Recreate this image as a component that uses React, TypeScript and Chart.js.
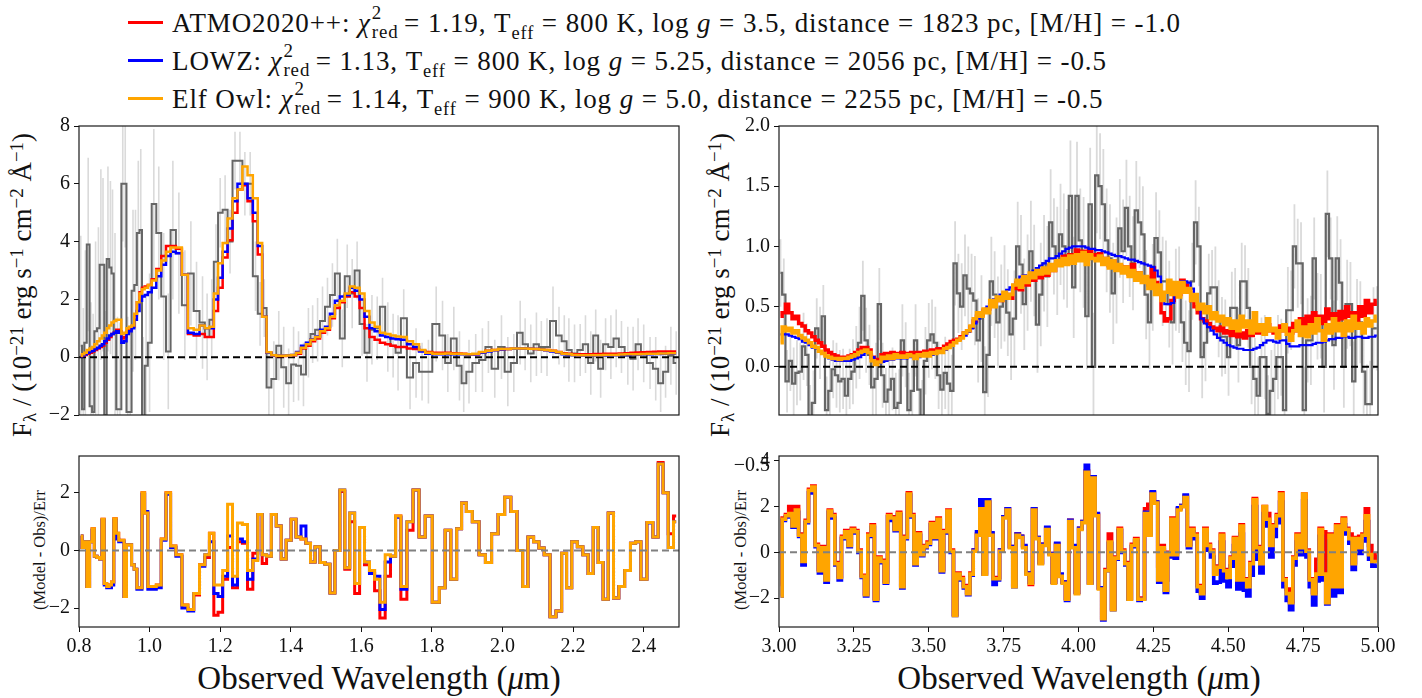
import React, { useEffect, useRef } from 'react';
import { Chart, registerables } from 'chart.js';
Chart.register(...registerables);

const SERIF = "'Liberation Serif', 'DejaVu Serif', serif";
const C_ATMO = '#ff0000';
const C_LOWZ = '#0000ff';
const C_ELF = '#ffa500';
const C_OBS = '#666666';
const C_ERR = '#dadada';

// ---------- Left panel (0.8 - 2.5 um) ----------
const LEFT_WAVE = [0.805,0.812,0.818,0.826,0.834,0.840,0.847,0.855,0.862,0.868,0.875,0.882,0.889,0.895,0.902,0.909,0.916,0.924,0.931,0.938,0.945,0.953,0.960,0.968,0.975,0.982,0.990,1.000,1.012,1.026,1.040,1.053,1.066,1.083,1.100,1.117,1.133,1.150,1.163,1.176,1.188,1.200,1.214,1.228,1.242,1.256,1.270,1.285,1.300,1.313,1.325,1.338,1.352,1.366,1.380,1.394,1.408,1.422,1.436,1.450,1.462,1.476,1.490,1.504,1.518,1.532,1.546,1.560,1.574,1.588,1.602,1.616,1.630,1.645,1.660,1.675,1.690,1.704,1.720,1.738,1.755,1.772,1.790,1.812,1.830,1.845,1.862,1.878,1.890,1.905,1.924,1.943,1.960,1.978,1.997,2.015,2.032,2.050,2.064,2.080,2.096,2.110,2.126,2.143,2.160,2.175,2.188,2.204,2.220,2.235,2.250,2.264,2.278,2.292,2.307,2.322,2.337,2.355,2.370,2.384,2.400,2.418,2.434,2.448,2.462,2.477,2.492];
const LEFT_OBS = [0.4,-1.8,0.5,3.9,-1.7,-1.9,0.9,1.0,3.2,3.2,
-2.0,3.4,3.1,2.9,0.9,-1.8,-1.8,6.0,6.0,-1.9,
-1.9,2.3,2.5,4.3,4.4,-2.5,-0.3,0.5,5.3,4.3,
2.1,0.2,4.4,3.6,1.8,2.9,1.6,1.2,0.7,1.3,
3.3,5.0,5.1,4.0,6.8,6.8,6.0,6.0,2.8,1.5,
1.7,-1.05,-0.75,0.4,-0.35,-0.9,-0.25,-0.3,-0.6,0.5,
0.8,0.95,1.25,1.75,2.15,2.9,0.65,2.8,2.2,3.0,
1.15,0.15,0.95,1.0,1.75,0.7,0.4,0.15,1.35,-0.7,
-0.2,-0.5,-0.5,1.15,0.75,-0.2,0.65,-0.3,-0.9,-0.5,
-0.2,-0.1,0.35,-0.4,0.35,-0.5,-0.2,0.85,0.45,0.13,
0.45,0.35,0.35,1.25,0.75,0.55,0.25,0.13,0.25,0.45,
-0.2,0.75,-0.4,0.45,0.35,0.65,0.35,0.05,-0.05,0.45,
0.13,-0.2,-0.4,-0.9,-0.5,0.05,-0.2];
const LEFT_ERR = [3.8,3.5,3.2,3.0,3.6,3.4,3.1,3.5,3.3,3.0,
3.6,3.2,3.0,2.9,3.4,3.2,3.0,2.0,2.2,3.3,
3.0,2.8,2.6,2.5,2.8,3.2,2.5,2.4,2.6,2.3,
2.2,2.0,2.4,2.1,1.9,1.8,1.7,1.6,1.5,1.4,
1.3,1.2,1.2,1.1,1.0,1.0,1.1,1.1,1.2,1.1,
1.0,1.2,1.3,1.2,1.4,1.2,1.3,1.2,1.1,1.2,
1.0,1.1,1.2,1.0,1.1,1.2,1.0,1.1,1.2,1.0,
1.1,1.0,1.2,1.1,1.0,1.2,1.1,1.3,1.0,1.1,
1.2,1.0,1.1,1.3,1.2,1.0,1.1,1.2,1.0,1.1,
1.0,1.1,0.9,1.0,1.1,1.2,1.0,1.1,0.9,1.0,
1.1,0.9,1.0,1.2,1.0,0.9,1.1,1.0,0.9,1.0,
1.1,0.9,1.0,0.9,1.1,1.0,0.9,1.0,1.1,0.9,
1.0,0.9,1.1,1.0,0.9,1.0,1.1];
const LEFT_ELF = [0.05,0.1,0.15,0.25,0.3,0.35,0.45,0.55,0.65,0.75,
0.85,1.0,1.1,1.2,1.25,1.3,1.3,0.8,0.85,1.0,
1.05,1.1,1.5,1.9,2.2,2.35,2.4,2.5,2.65,3.0,
3.35,3.65,3.8,3.8,2.85,1.0,0.95,1.1,1.0,1.05,
2.2,3.25,3.95,4.8,5.5,5.8,6.6,6.3,5.5,3.95,
1.4,0.17,0.07,0.05,0.05,0.06,0.08,0.15,0.33,0.45,
0.6,0.7,0.9,1.0,1.4,1.8,1.95,2.2,2.45,2.4,
2.2,1.6,1.2,1.05,0.85,0.8,0.75,0.72,0.7,0.55,
0.45,0.25,0.15,0.12,0.12,0.13,0.12,0.12,0.11,0.1,
0.12,0.18,0.22,0.25,0.28,0.28,0.3,0.3,0.3,0.29,
0.28,0.27,0.25,0.22,0.17,0.12,0.1,0.08,0.07,0.07,
0.07,0.07,0.07,0.08,0.08,0.08,0.09,0.1,0.1,0.1,
0.11,0.12,0.12,0.13,0.13,0.14,0.14];
const LEFT_LOWZ = [0.03,0.06,0.1,0.15,0.2,0.22,0.28,0.33,0.4,0.45,
0.55,0.65,0.75,0.8,0.85,0.9,0.85,0.5,0.55,0.8,
0.9,1.0,1.3,1.6,1.95,2.1,2.15,2.25,2.4,2.8,
3.2,3.5,3.65,3.6,2.85,0.85,0.8,1.1,1.0,1.0,
2.0,2.75,3.65,4.45,5.4,6.0,6.0,5.5,5.0,3.85,
1.4,0.15,0.06,0.05,0.05,0.06,0.08,0.18,0.4,0.5,
0.62,0.72,0.95,1.05,1.5,1.95,2.1,2.15,2.4,2.3,
2.0,1.4,1.0,0.9,0.75,0.7,0.65,0.62,0.6,0.45,
0.35,0.2,0.12,0.1,0.1,0.1,0.1,0.1,0.1,0.09,
0.1,0.15,0.2,0.24,0.27,0.28,0.29,0.3,0.3,0.29,
0.28,0.27,0.24,0.2,0.15,0.1,0.08,0.07,0.06,0.06,
0.06,0.06,0.06,0.06,0.07,0.07,0.08,0.08,0.09,0.09,
0.1,0.1,0.11,0.11,0.12,0.12,0.13];
const LEFT_ATMO = [0.03,0.05,0.08,0.12,0.15,0.2,0.25,0.3,0.35,0.4,
0.5,0.6,0.7,0.8,0.85,0.95,0.9,0.65,0.7,0.85,
0.95,1.05,1.45,1.9,2.25,2.4,2.45,2.5,2.7,3.05,
3.5,3.85,3.85,3.75,2.85,0.8,0.75,0.8,0.7,0.7,
1.6,2.4,3.45,4.05,5.0,5.8,5.95,5.4,4.7,3.55,
1.4,0.15,0.05,0.04,0.04,0.05,0.07,0.12,0.3,0.4,
0.55,0.65,0.85,0.95,1.35,1.7,1.9,2.1,2.25,2.1,
1.7,1.0,0.7,0.6,0.5,0.45,0.4,0.35,0.35,0.3,
0.28,0.22,0.18,0.15,0.15,0.15,0.14,0.13,0.12,0.1,
0.1,0.17,0.22,0.25,0.27,0.28,0.29,0.3,0.3,0.29,
0.28,0.27,0.25,0.22,0.18,0.14,0.12,0.1,0.1,0.1,
0.1,0.11,0.11,0.12,0.12,0.12,0.13,0.14,0.15,0.16,
0.17,0.18,0.19,0.2,0.2,0.2,0.2];
const LEFT_RES_ELF = [0.5,0.1,0.3,-1.25,0.3,0.75,-0.2,-0.25,-0.3,1.08,
-1.15,-1.25,-1.2,-1.1,1.1,0.6,0.35,0.35,-1.6,0.2,
0.2,-0.5,-0.65,-1.3,-1.3,2.0,1.3,-1.25,-1.25,-1.2,
0.4,2.0,0.15,-0.15,-1.9,-2.05,-1.5,-0.5,-0.15,0.6,
-1.2,-1.2,-0.7,1.6,-0.9,0.95,0.9,-0.7,-0.35,1.25,
-0.15,-0.2,1.25,0.85,-0.3,0.35,1.08,0.47,0.4,0.25,
-0.4,0.13,-0.42,-0.48,-1.48,0.0,2.1,-0.6,1.3,-1.15,
0.8,-0.4,-0.7,-1.0,-1.8,-0.15,-0.2,1.2,-1.25,1.0,
2.1,0.47,1.2,-1.8,-1.3,0.7,-1.0,0.75,1.65,1.35,
1.0,-0.15,-0.42,0.58,1.25,1.85,1.35,0.0,-1.25,0.47,
0.3,0.08,-0.15,-2.3,-2.1,-0.1,-1.3,0.3,0.13,-0.15,
-0.8,0.8,-0.42,-1.7,1.3,-1.65,-1.25,-0.7,0.25,0.3,
-1.0,0.97,0.47,3.0,2.0,0.1,1.0];
const LEFT_RES_LOWZ = [0.5,0.1,0.3,-1.25,0.3,0.7,-0.2,-0.25,-0.3,1.05,
-1.2,-1.3,-1.3,-1.2,1.05,0.4,0.3,0.3,-1.6,0.2,
0.2,-0.5,-0.65,-1.35,-1.35,1.95,1.35,-1.35,-1.35,-1.3,
0.35,1.95,0.1,-0.2,-2.0,-2.1,-1.5,-0.55,-0.15,0.3,
-1.5,-1.6,-0.9,0.5,-1.2,0.4,0.3,-1.0,-0.3,1.25,
-0.15,-0.2,1.25,0.85,-0.3,0.35,1.08,0.47,0.85,0.25,
-0.4,0.13,-0.42,-0.48,-1.48,0.0,2.1,-0.6,1.3,-1.15,
0.8,-0.4,-0.8,-0.9,-2.05,-0.4,-0.2,1.15,-1.35,1.0,
2.1,0.47,1.2,-1.8,-1.3,0.7,-1.0,0.75,1.65,1.35,
1.0,-0.15,-0.42,0.58,1.25,1.85,1.35,0.0,-1.25,0.47,
0.3,0.08,-0.15,-2.3,-2.1,-0.1,-1.3,0.3,0.13,-0.15,
-0.8,0.8,-0.42,-1.7,1.3,-1.65,-1.25,-0.7,0.25,0.3,
-1.0,0.95,0.47,3.0,2.0,0.1,1.0];
const LEFT_RES_ATMO = [0.5,0.1,0.3,-1.25,0.3,0.75,-0.2,-0.25,-0.3,1.08,
-1.15,-1.25,-1.2,-1.1,1.1,0.6,0.35,0.35,-1.6,0.2,
0.2,-0.5,-0.65,-1.3,-1.3,2.0,1.3,-1.25,-1.25,-1.2,
0.4,2.0,0.15,-0.15,-1.9,-2.05,-1.55,-0.5,-0.25,0.6,
-2.25,-2.15,-1.0,0.1,-1.3,0.3,0.25,-1.35,-0.1,1.25,
-0.45,-0.2,1.25,0.85,-0.3,0.35,1.08,0.47,0.4,0.25,
-0.4,0.13,-0.42,-0.48,-1.48,0.0,2.05,-0.65,1.0,-1.5,
0.8,-0.5,-0.7,-1.4,-2.35,-0.9,-0.2,1.2,-1.7,0.7,
2.1,0.47,1.2,-1.8,-1.3,0.7,-1.0,0.75,1.65,1.35,
1.0,-0.15,-0.42,0.58,1.25,1.85,1.35,0.0,-1.25,0.47,
0.3,0.08,-0.15,-2.3,-2.1,-0.1,-1.3,0.3,0.13,-0.15,
-0.8,0.8,-0.42,-1.7,1.3,-1.65,-1.25,-0.7,0.25,0.3,
-1.0,0.97,0.47,3.05,2.0,0.58,1.2];

// ---------- Right panel (3.0 - 5.0 um) ----------
const RIGHT_WAVE = [3.005,3.016,3.027,3.038,3.049,3.060,3.071,3.082,3.093,3.104,3.115,3.126,3.137,3.148,3.159,3.170,3.181,3.192,3.203,3.214,3.225,3.236,3.247,3.258,3.269,3.280,3.291,3.302,3.313,3.324,3.335,3.346,3.357,3.368,3.379,3.390,3.401,3.412,3.423,3.434,3.445,3.456,3.467,3.478,3.489,3.500,3.511,3.522,3.533,3.544,3.555,3.566,3.577,3.588,3.599,3.610,3.621,3.632,3.643,3.654,3.665,3.676,3.687,3.698,3.709,3.720,3.731,3.742,3.753,3.764,3.775,3.786,3.797,3.808,3.819,3.830,3.841,3.852,3.863,3.874,3.885,3.896,3.907,3.918,3.929,3.940,3.951,3.962,3.973,3.984,3.995,4.006,4.017,4.028,4.039,4.050,4.061,4.072,4.083,4.094,4.105,4.116,4.127,4.138,4.149,4.160,4.171,4.182,4.193,4.204,4.215,4.226,4.237,4.248,4.259,4.270,4.281,4.292,4.303,4.314,4.325,4.336,4.347,4.358,4.369,4.380,4.391,4.402,4.413,4.424,4.435,4.446,4.457,4.468,4.479,4.490,4.501,4.512,4.523,4.534,4.545,4.556,4.567,4.578,4.589,4.600,4.611,4.622,4.633,4.644,4.655,4.666,4.677,4.688,4.699,4.710,4.721,4.732,4.743,4.754,4.765,4.776,4.787,4.798,4.809,4.820,4.831,4.842,4.853,4.864,4.875,4.886,4.897,4.908,4.919,4.930,4.941,4.952,4.963,4.974,4.985,4.996];
const RIGHT_OBS = [0.78,0.6,-0.12,0.05,-0.14,-0.05,-0.04,0.17,0.1,-0.45,
-0.3,0.32,0.2,0.42,-0.36,-0.2,-0.02,-0.07,-0.12,-0.1,
-0.24,-0.1,-0.04,0.08,0.2,0.59,0.22,0.1,-0.17,-0.1,
0.52,-0.07,-0.29,-0.19,-0.1,-0.34,-0.3,0.22,0.1,-0.36,
-0.2,0.22,-0.19,-0.41,0.05,0.22,0.27,0.2,-0.07,-0.19,
-0.05,-0.14,-0.2,0.86,0.61,0.5,0.76,0.65,0.61,0.55,
0.22,0.4,-0.21,0.1,0.71,0.6,0.37,0.5,0.61,0.45,
0.27,0.4,1.0,0.85,0.52,0.7,0.96,0.8,0.35,0.6,
0.86,0.75,1.2,1.0,0.88,1.1,1.0,0.9,1.42,0.66,
1.42,1.05,0.95,0.42,1.35,0.0,1.59,1.5,1.35,1.05,
0.9,0.61,0.8,1.15,0.96,1.32,1.0,0.86,1.3,1.2,
1.1,0.6,0.37,0.66,1.07,0.95,0.71,0.71,0.52,0.37,
0.64,0.64,0.37,0.2,0.13,0.71,1.2,1.0,0.08,0.2,
0.61,0.66,0.66,0.4,0.25,0.25,0.08,0.49,0.49,0.18,
0.71,0.71,0.49,0.0,-0.1,-0.24,0.08,0.08,-0.39,-0.2,
-0.1,0.08,0.08,-0.36,0.47,0.47,1.0,0.86,0.86,-0.36,
0.22,0.22,0.9,0.42,0.42,0.0,1.27,0.9,0.18,0.9,
0.7,0.0,0.52,0.52,-0.12,0.37,0.37,-0.04,-0.31,-0.31,
0.32,0.32];
const RIGHT_ERR = [0.28,0.3,0.26,0.25,0.3,0.27,0.24,0.28,0.26,0.3,
0.27,0.25,0.3,0.26,0.28,0.25,0.24,0.27,0.26,0.25,
0.28,0.25,0.27,0.26,0.3,0.29,0.27,0.25,0.28,0.3,
0.3,0.27,0.28,0.3,0.26,0.29,0.28,0.3,0.27,0.31,
0.28,0.3,0.27,0.3,0.28,0.31,0.29,0.3,0.28,0.32,
0.3,0.33,0.3,0.35,0.33,0.36,0.34,0.35,0.33,0.37,
0.35,0.36,0.38,0.35,0.37,0.36,0.38,0.35,0.4,0.36,
0.38,0.4,0.37,0.41,0.38,0.4,0.42,0.38,0.4,0.43,
0.4,0.42,0.44,0.4,0.45,0.42,0.44,0.41,0.46,0.42,
0.45,0.43,0.46,0.44,0.47,0.45,0.48,0.44,0.46,0.43,
0.45,0.42,0.44,0.41,0.43,0.4,0.42,0.39,0.41,0.38,
0.4,0.37,0.39,0.36,0.38,0.35,0.37,0.34,0.36,0.35,
0.34,0.36,0.33,0.35,0.34,0.32,0.35,0.33,0.34,0.32,
0.33,0.31,0.34,0.32,0.33,0.31,0.32,0.3,0.33,0.31,
0.32,0.3,0.33,0.31,0.34,0.32,0.33,0.35,0.32,0.34,
0.33,0.35,0.32,0.34,0.36,0.33,0.35,0.37,0.34,0.36,
0.35,0.37,0.34,0.36,0.35,0.38,0.36,0.34,0.37,0.35,
0.36,0.34,0.37,0.35,0.33,0.36,0.34,0.35,0.33,0.36,
0.34,0.35];
const RIGHT_ELF = [0.2,0.33,0.3,0.32,0.28,0.3,0.26,0.24,0.22,0.2,
0.17,0.16,0.13,0.11,0.09,0.08,0.07,0.07,0.06,0.07,
0.07,0.08,0.09,0.1,0.12,0.13,0.14,0.12,0.05,0.02,
0.04,0.08,0.07,0.09,0.07,0.1,0.08,0.09,0.08,0.1,
0.09,0.07,0.1,0.09,0.11,0.09,0.12,0.11,0.13,0.12,
0.15,0.16,0.18,0.2,0.22,0.24,0.28,0.3,0.34,0.4,
0.45,0.42,0.48,0.45,0.55,0.5,0.58,0.55,0.62,0.57,
0.6,0.68,0.72,0.66,0.75,0.7,0.78,0.74,0.8,0.77,
0.82,0.78,0.85,0.8,0.88,0.84,0.9,0.85,0.92,0.86,
0.93,0.88,0.95,0.85,0.93,0.9,0.88,0.92,0.85,0.9,
0.82,0.88,0.8,0.85,0.78,0.83,0.75,0.8,0.72,0.78,
0.7,0.75,0.65,0.72,0.6,0.68,0.55,0.62,0.72,0.6,
0.7,0.58,0.7,0.62,0.65,0.55,0.6,0.48,0.52,0.45,
0.5,0.4,0.45,0.38,0.42,0.35,0.4,0.32,0.38,0.3,
0.42,0.33,0.38,0.28,0.45,0.3,0.35,0.27,0.4,0.3,
0.32,0.24,0.3,0.35,0.27,0.22,0.3,0.38,0.26,0.33,
0.25,0.35,0.28,0.4,0.3,0.22,0.35,0.28,0.4,0.3,
0.36,0.26,0.38,0.3,0.42,0.32,0.36,0.28,0.4,0.34,
0.38,0.42];
const RIGHT_LOWZ = [0.27,0.27,0.27,0.26,0.25,0.24,0.23,0.21,0.2,0.18,
0.16,0.15,0.13,0.11,0.09,0.07,0.06,0.05,0.05,0.05,
0.05,0.05,0.06,0.07,0.08,0.1,0.12,0.12,0.08,0.03,
0.03,0.04,0.05,0.06,0.06,0.07,0.07,0.07,0.07,0.08,
0.08,0.08,0.08,0.09,0.09,0.1,0.1,0.11,0.12,0.13,
0.14,0.16,0.18,0.2,0.22,0.24,0.26,0.29,0.32,0.36,
0.4,0.44,0.47,0.5,0.53,0.56,0.58,0.6,0.62,0.64,
0.66,0.68,0.72,0.75,0.76,0.74,0.78,0.8,0.82,0.84,
0.86,0.88,0.9,0.9,0.92,0.94,0.96,0.98,0.99,1.0,
1.0,1.0,1.0,0.99,0.98,0.98,0.97,0.97,0.96,0.95,
0.94,0.93,0.92,0.92,0.91,0.9,0.89,0.89,0.88,0.87,
0.86,0.85,0.84,0.83,0.8,0.75,0.6,0.52,0.52,0.53,
0.6,0.68,0.71,0.71,0.7,0.65,0.58,0.5,0.4,0.36,
0.33,0.3,0.27,0.24,0.22,0.2,0.18,0.17,0.16,0.15,
0.15,0.14,0.14,0.14,0.15,0.16,0.18,0.2,0.22,0.22,
0.21,0.2,0.22,0.22,0.19,0.17,0.17,0.17,0.18,0.18,
0.18,0.18,0.19,0.2,0.2,0.21,0.22,0.23,0.23,0.24,
0.24,0.25,0.25,0.24,0.24,0.25,0.25,0.24,0.24,0.25,
0.25,0.26];
const RIGHT_ATMO = [0.42,0.45,0.52,0.45,0.4,0.42,0.36,0.34,0.3,0.28,
0.25,0.22,0.2,0.17,0.14,0.12,0.1,0.09,0.08,0.08,
0.08,0.09,0.1,0.12,0.14,0.16,0.16,0.14,0.08,0.05,
0.06,0.1,0.11,0.1,0.12,0.11,0.1,0.12,0.1,0.11,
0.12,0.1,0.12,0.11,0.13,0.12,0.14,0.13,0.15,0.15,
0.17,0.19,0.21,0.22,0.23,0.25,0.28,0.3,0.33,0.38,
0.42,0.43,0.47,0.48,0.52,0.53,0.56,0.55,0.58,0.6,
0.57,0.65,0.7,0.64,0.7,0.68,0.75,0.72,0.76,0.74,
0.8,0.76,0.84,0.8,0.86,0.88,0.92,0.87,0.93,0.9,
0.97,0.92,0.96,0.9,0.97,0.93,0.9,0.94,0.88,0.9,
0.84,0.88,0.82,0.84,0.8,0.83,0.77,0.85,0.75,0.78,
0.72,0.74,0.68,0.82,0.7,0.62,0.45,0.38,0.4,0.55,
0.62,0.6,0.72,0.68,0.62,0.55,0.5,0.45,0.4,0.38,
0.36,0.33,0.32,0.3,0.33,0.28,0.3,0.26,0.3,0.25,
0.28,0.24,0.3,0.26,0.3,0.28,0.33,0.3,0.35,0.3,
0.28,0.3,0.34,0.3,0.32,0.28,0.36,0.3,0.4,0.33,
0.42,0.35,0.45,0.38,0.42,0.36,0.48,0.4,0.44,0.38,
0.46,0.4,0.5,0.42,0.45,0.38,0.5,0.42,0.55,0.45,
0.52,0.55];
const RIGHT_RES_ELF = [-1.9,1.45,1.6,1.7,1.15,1.85,0.75,-0.4,1.35,2.7,
2.85,0.3,-0.8,0.2,-1.2,1.8,1.6,-0.5,-1.1,0.65,
0.9,0.3,1.0,0.9,0.05,-1.05,-1.85,0.75,1.15,-2.05,
-0.25,-0.4,-1.3,1.6,1.5,1.0,1.7,-1.5,0.65,2.55,
1.6,-0.5,0.8,-0.1,0.25,0.4,1.25,0.65,1.45,-0.8,
0.9,1.8,0.05,-2.75,-0.95,-1.15,-1.5,-1.8,-0.95,0.05,
0.75,1.9,-0.95,2.2,0.75,-1.15,-1.15,0.05,1.5,1.85,
0.2,-1.5,0.75,0.65,0.2,-0.95,-1.35,1.85,0.6,-0.5,
0.3,1.0,-0.1,-1.35,0.3,-1.05,-1.35,-2.05,1.35,0.2,
-1.8,1.0,1.3,3.5,-1.35,3.25,1.6,-1.6,-2.9,-0.8,
0.45,-2.5,-0.25,1.0,0.05,-0.5,-2.05,0.3,0.55,-2.05,
-2.05,1.7,0.75,2.55,2.15,-1.2,0.2,-1.65,-0.1,1.45,
-0.1,1.85,2.0,2.4,0.3,1.0,0.75,-1.5,-1.8,1.0,
0.3,0.05,-0.95,-0.65,0.75,-0.8,-1.1,-0.25,0.6,-1.2,
1.15,-1.2,-1.5,-0.5,2.3,0.2,-0.5,2.0,1.45,0.3,
1.15,1.6,2.55,-1.2,-1.8,-2.2,-0.25,0.75,0.2,2.55,
0.05,-1.2,-1.8,-0.95,1.0,-0.95,-2.2,0.75,-1.5,1.15,
-1.5,1.45,1.0,0.6,-0.5,0.6,0.2,0.75,1.6,-0.1,
-0.4,-0.4];
const RIGHT_RES_LOWZ = [-1.9,1.4,1.55,1.6,1.1,1.75,0.7,-0.55,1.3,2.6,
2.75,0.25,-0.9,0.15,-1.3,1.75,1.5,-0.55,-1.2,0.6,
0.85,0.25,0.95,0.85,0.0,-1.1,-1.9,0.7,1.1,-2.1,
-0.3,-0.45,-1.35,1.55,1.4,0.95,1.65,-1.55,0.6,2.5,
1.55,-0.55,0.75,-0.15,0.2,0.35,1.2,0.6,1.4,-0.85,
0.85,1.75,0.0,-2.75,-1.0,-1.2,-1.55,-1.85,-1.0,0.1,
0.9,2.3,-0.95,2.3,0.85,-1.4,-1.2,0.1,1.55,1.9,
0.25,-1.5,0.8,0.7,0.3,-0.9,-1.3,1.9,0.65,-0.45,
0.35,1.1,-0.05,-1.3,0.4,-0.95,-1.3,-2.1,1.4,0.3,
-1.75,1.05,1.35,3.8,-1.35,3.3,1.7,-1.55,-2.95,-0.8,
0.4,-2.5,-0.3,0.95,0.0,-0.55,-2.05,0.25,0.5,-2.1,
-2.05,1.75,0.8,2.65,2.2,-1.3,0.1,-1.75,-0.2,1.4,
-0.25,1.95,2.05,2.5,0.2,0.9,0.6,-1.7,-2.0,0.8,
0.1,-0.2,-1.35,-1.3,0.45,-1.25,-1.5,-0.6,0.3,-1.6,
0.8,-1.65,-1.9,-1.0,2.0,-0.3,-0.9,1.7,1.15,-0.2,
0.7,1.3,2.2,-1.5,-2.1,-2.5,-0.55,0.45,-0.1,2.25,
-0.2,-1.5,-2.3,-1.25,0.7,-1.2,-2.25,0.5,-1.9,0.9,
-1.75,1.2,0.8,0.4,-0.75,0.4,-0.05,0.5,1.35,-0.3,
-0.6,-0.55];
const RIGHT_RES_ATMO = [-1.4,1.5,1.65,2.0,1.2,2.0,0.8,-0.35,1.4,2.75,
2.9,0.35,-0.75,0.25,-1.15,1.85,1.65,-0.45,-1.05,0.7,
0.95,0.35,1.05,0.95,0.1,-1.0,-1.8,0.8,1.2,-2.0,
-0.2,-0.35,-1.25,1.65,1.55,1.05,1.75,-1.45,0.7,2.6,
1.65,-0.45,0.85,-0.05,0.3,0.45,1.3,0.7,1.5,-0.75,
0.95,1.85,0.1,-2.7,-0.9,-1.1,-1.45,-1.75,-0.9,0.1,
0.8,1.95,-0.9,2.2,0.8,-1.1,-1.1,0.1,1.55,1.9,
0.25,-1.45,0.8,0.7,0.25,-0.9,-1.4,1.9,0.65,-0.45,
0.35,1.05,-0.05,-1.3,0.35,-1.0,-1.3,-2.0,1.4,0.25,
-1.75,1.05,1.35,3.55,-1.3,3.3,1.65,-1.55,-2.85,-0.75,
0.8,-2.45,-0.2,1.05,0.1,-0.45,-2.0,0.35,0.6,-2.0,
-2.0,1.9,2.1,2.6,2.2,-0.6,0.3,-1.2,0.0,1.5,
0.0,1.9,2.05,2.45,0.35,1.05,0.8,-1.45,-1.75,1.05,
0.35,0.1,-0.9,-0.6,0.8,-0.75,-1.05,-0.2,0.65,-1.15,
1.2,-1.15,-1.45,-0.45,2.35,0.25,-0.45,2.0,1.7,0.35,
1.2,1.65,2.6,-1.15,-1.6,-2.15,-0.2,0.8,0.25,2.55,
0.1,-1.15,-1.75,-0.3,1.05,0.9,-2.15,0.8,-1.2,1.2,
-1.2,1.5,1.05,0.8,-0.45,0.65,0.7,0.8,1.9,0.3,
-0.35,-0.1];

// ---------- Ticks ----------
const LEFT_X_TICKS = [0.8, 1.0, 1.2, 1.4, 1.6, 1.8, 2.0, 2.2, 2.4];
const LEFT_X_LABELS = ['0.8', '1.0', '1.2', '1.4', '1.6', '1.8', '2.0', '2.2', '2.4'];
const RIGHT_X_TICKS = [3.0, 3.25, 3.5, 3.75, 4.0, 4.25, 4.5, 4.75, 5.0];
const RIGHT_X_LABELS = ['3.00', '3.25', '3.50', '3.75', '4.00', '4.25', '4.50', '4.75', '5.00'];
const LEFT_TOP_Y_TICKS = [-2, 0, 2, 4, 6, 8];
const LEFT_TOP_Y_LABELS = ['\u22122', '0', '2', '4', '6', '8'];
const RIGHT_TOP_Y_TICKS = [0, 0.5, 1.0, 1.5, 2.0];
const RIGHT_TOP_Y_LABELS = ['0.0', '0.5', '1.0', '1.5', '2.0'];
const LEFT_RES_Y_TICKS = [-2, 0, 2];
const LEFT_RES_Y_LABELS = ['\u22122', '0', '2'];
const RIGHT_RES_Y_TICKS = [-2, 0, 2, 4];
const RIGHT_RES_Y_LABELS = ['\u22122', '0', '2', '4'];

// ---------- Legend ----------
const LEGEND_NAMES = ['ATMO2020++', 'LOWZ', 'Elf Owl'];
const LEGEND_COLORS = [C_ATMO, C_LOWZ, C_ELF];
const LEGEND_CHI = ['1.19', '1.13', '1.14'];
const LEGEND_TEFF = ['800', '800', '900'];
const LEGEND_LOGG = ['3.5', '5.25', '5.0'];
const LEGEND_DIST = ['1823', '2056', '2255'];
const LEGEND_MH = ['-1.0', '-0.5', '-0.5'];

const zip = (xs: number[], ys: number[]) => xs.map((x, i) => ({ x, y: ys[i] }));
const errSegs = (xs: number[], ys: number[], es: number[]) => {
  const out: any[] = [];
  xs.forEach((x, i) => {
    out.push({ x, y: ys[i] - es[i] }, { x, y: ys[i] + es[i] }, { x, y: null });
  });
  return out;
};

const framePlugin = {
  id: 'frame',
  afterDatasetsDraw(chart: any) {
    const { ctx, chartArea: a } = chart;
    ctx.save();
    ctx.strokeStyle = '#1a1a1a';
    ctx.lineWidth = 1.2;
    ctx.strokeRect(a.left, a.top, a.right - a.left, a.bottom - a.top);
    ctx.restore();
  },
};

const Y_W = 46;
const X_H = 34;
const TICK_FS = 20;

type Panel = {
  box: { left: number; top: number; w: number; h: number };
  plot: { left: number; top: number; right: number; bottom: number };
  x: { min: number; max: number; ticks: number[]; labels: string[]; show: boolean };
  y: { min: number; max: number; ticks: number[]; labels: string[] };
  datasets: any[];
};

function build(canvas: HTMLCanvasElement, p: Panel) {
  const padding = {
    left: p.plot.left - p.box.left - Y_W,
    top: p.plot.top - p.box.top,
    right: p.box.left + p.box.w - p.plot.right,
    bottom: p.box.top + p.box.h - p.plot.bottom - (p.x.show ? X_H : 0),
  };
  const tickFont = { family: SERIF, size: TICK_FS };
  return new Chart(canvas, {
    type: 'line',
    data: { datasets: p.datasets },
    options: {
      animation: false,
      responsive: false,
      maintainAspectRatio: false,
      devicePixelRatio: 1,
      events: [],
      layout: { padding },
      elements: { point: { radius: 0 }, line: { tension: 0 } },
      plugins: { legend: { display: false }, tooltip: { enabled: false } },
      scales: {
        x: {
          type: 'linear',
          min: p.x.min,
          max: p.x.max,
          display: p.x.show,
          afterBuildTicks: (s: any) => {
            s.ticks = p.x.ticks.map((v) => ({ value: v }));
          },
          afterFit: (s: any) => {
            s.height = X_H;
          },
          ticks: {
            autoSkip: false,
            maxRotation: 0,
            minRotation: 0,
            padding: 3,
            color: '#111',
            font: tickFont,
            callback: (_v: any, i: number) => p.x.labels[i],
          },
          grid: { drawOnChartArea: false, drawTicks: true, tickLength: 5, color: '#111', lineWidth: 1 },
          border: { display: false },
        },
        y: {
          type: 'linear',
          min: p.y.min,
          max: p.y.max,
          afterBuildTicks: (s: any) => {
            s.ticks = p.y.ticks.map((v) => ({ value: v }));
          },
          afterFit: (s: any) => {
            s.width = Y_W;
          },
          ticks: {
            autoSkip: false,
            padding: 4,
            color: '#111',
            font: tickFont,
            callback: (_v: any, i: number) => p.y.labels[i],
          },
          grid: { drawOnChartArea: false, drawTicks: true, tickLength: 5, color: '#111', lineWidth: 1 },
          border: { display: false },
        },
      },
    } as any,
    plugins: [framePlugin],
  });
}

const step = (xs: number[], ys: number[], color: string, width: number) => ({
  data: zip(xs, ys),
  borderColor: color,
  borderWidth: width,
  stepped: 'middle',
  pointRadius: 0,
});

const hline = (x0: number, x1: number, color: string, width: number) => ({
  data: [{ x: x0, y: 0 }, { x: x1, y: 0 }],
  borderColor: color,
  borderWidth: width,
  borderDash: [7, 4],
  pointRadius: 0,
});

const errLine = (xs: number[], ys: number[], es: number[], width: number) => ({
  data: errSegs(xs, ys, es),
  borderColor: C_ERR,
  borderWidth: width,
  pointRadius: 0,
  spanGaps: false,
});

const BOXES = {
  tl: { left: 0, top: 110, w: 700, h: 360 },
  tr: { left: 700, top: 110, w: 722, h: 360 },
  bl: { left: 0, top: 440, w: 700, h: 235 },
  br: { left: 700, top: 440, w: 722, h: 235 },
};

function SupSub({ fs, sup, sub }: { fs: number; sup: string; sub: string }) {
  return (
    <span style={{ display: 'inline-block', position: 'relative', width: fs * 0.95, height: fs }}>
      <span style={{ position: 'absolute', left: 1, top: -fs * 0.05, fontSize: fs * 0.7, lineHeight: 1 }}>{sup}</span>
      <span style={{ position: 'absolute', left: 1, top: fs * 0.66, fontSize: fs * 0.7, lineHeight: 1 }}>{sub}</span>
    </span>
  );
}

export default function App() {
  const tl = useRef<HTMLCanvasElement>(null);
  const tr = useRef<HTMLCanvasElement>(null);
  const bl = useRef<HTMLCanvasElement>(null);
  const br = useRef<HTMLCanvasElement>(null);

  useEffect(() => {
    const charts: Chart[] = [];
    charts.push(
      build(tl.current!, {
        box: BOXES.tl,
        plot: { left: 79, top: 120, right: 679, bottom: 449 },
        x: { min: 0.8, max: 2.5, ticks: LEFT_X_TICKS, labels: LEFT_X_LABELS, show: false },
        y: { min: -2, max: 8, ticks: LEFT_TOP_Y_TICKS, labels: LEFT_TOP_Y_LABELS },
        datasets: [
          step(LEFT_WAVE, LEFT_ELF, C_ELF, 2.5),
          step(LEFT_WAVE, LEFT_LOWZ, C_LOWZ, 2.5),
          step(LEFT_WAVE, LEFT_ATMO, C_ATMO, 2.5),
          hline(0.8, 2.5, '#000', 2),
          step(LEFT_WAVE, LEFT_OBS, C_OBS, 2),
          errLine(LEFT_WAVE, LEFT_OBS, LEFT_ERR, 1.6),
        ],
      })
    );
    charts.push(
      build(tr.current!, {
        box: BOXES.tr,
        plot: { left: 779, top: 120, right: 1378, bottom: 449 },
        x: { min: 3.0, max: 5.0, ticks: RIGHT_X_TICKS, labels: RIGHT_X_LABELS, show: false },
        y: { min: -0.4, max: 2.0, ticks: RIGHT_TOP_Y_TICKS, labels: RIGHT_TOP_Y_LABELS },
        datasets: [
          step(RIGHT_WAVE, RIGHT_ELF, C_ELF, 3.5),
          step(RIGHT_WAVE, RIGHT_LOWZ, C_LOWZ, 2.2),
          step(RIGHT_WAVE, RIGHT_ATMO, C_ATMO, 3.5),
          hline(3.0, 5.0, '#000', 2),
          step(RIGHT_WAVE, RIGHT_OBS, C_OBS, 2.2),
          errLine(RIGHT_WAVE, RIGHT_OBS, RIGHT_ERR, 1.8),
        ],
      })
    );
    charts.push(
      build(bl.current!, {
        box: BOXES.bl,
        plot: { left: 79, top: 449, right: 679, bottom: 627 },
        x: { min: 0.8, max: 2.5, ticks: LEFT_X_TICKS, labels: LEFT_X_LABELS, show: true },
        y: { min: -2.66, max: 3.28, ticks: LEFT_RES_Y_TICKS, labels: LEFT_RES_Y_LABELS },
        datasets: [
          hline(0.8, 2.5, '#808080', 2),
          step(LEFT_WAVE, LEFT_RES_ELF, C_ELF, 3),
          step(LEFT_WAVE, LEFT_RES_LOWZ, C_LOWZ, 3),
          step(LEFT_WAVE, LEFT_RES_ATMO, C_ATMO, 3),
        ],
      })
    );
    charts.push(
      build(br.current!, {
        box: BOXES.br,
        plot: { left: 779, top: 449, right: 1378, bottom: 627 },
        x: { min: 3.0, max: 5.0, ticks: RIGHT_X_TICKS, labels: RIGHT_X_LABELS, show: true },
        y: { min: -3.26, max: 4.21, ticks: RIGHT_RES_Y_TICKS, labels: RIGHT_RES_Y_LABELS },
        datasets: [
          hline(3.0, 5.0, '#808080', 2),
          step(RIGHT_WAVE, RIGHT_RES_ELF, C_ELF, 3.6),
          step(RIGHT_WAVE, RIGHT_RES_LOWZ, C_LOWZ, 3.6),
          step(RIGHT_WAVE, RIGHT_RES_ATMO, C_ATMO, 3.6),
        ],
      })
    );
    return () => charts.forEach((c) => c.destroy());
  }, []);

  const canvasStyle = (b: { left: number; top: number; w: number; h: number }) => ({
    position: 'absolute' as const,
    left: b.left,
    top: b.top,
    width: b.w,
    height: b.h,
  });

  const LFS = 27;
  const legendRows = LEGEND_NAMES.map((name, i) => (
    <div
      key={name}
      style={{
        position: 'absolute',
        left: 128,
        top: 22 + i * 38 - 18,
        height: 36,
        display: 'flex',
        alignItems: 'center',
        whiteSpace: 'nowrap',
        fontSize: LFS,
        letterSpacing: 0.9,
      }}
    >
      <span style={{ display: 'inline-block', width: 35, height: 3, background: LEGEND_COLORS[i], marginRight: 9 }} />
      <span>
        {name}: <i>χ</i>
        <SupSub fs={LFS} sup="2" sub="red" /> = {LEGEND_CHI[i]}, T
        <span style={{ fontSize: LFS * 0.68, position: 'relative', top: LFS * 0.25 }}>eff</span> = {LEGEND_TEFF[i]} K, log{' '}
        <i>g</i> = {LEGEND_LOGG[i]}, distance = {LEGEND_DIST[i]} pc, [M/H] = {LEGEND_MH[i]}
      </span>
    </div>
  ));

  const supStyle = { fontSize: '0.7em', position: 'relative' as const, top: '-0.45em' };
  const subStyle = { fontSize: '0.7em', position: 'relative' as const, top: '0.25em' };
  const fluxLabel = (
    <span>
      F<span style={subStyle}>λ</span> / (10<span style={supStyle}>−21</span> erg s<span style={supStyle}>−1</span> cm
      <span style={supStyle}>−2</span> Å<span style={supStyle}>−1</span>)
    </span>
  );

  const rot = (cx: number, cy: number, fs: number, content: any) => (
    <div
      style={{
        position: 'absolute',
        left: cx,
        top: cy,
        transform: 'translate(-50%, -50%) rotate(-90deg)',
        whiteSpace: 'nowrap',
        fontSize: fs,
        lineHeight: 1,
      }}
    >
      {content}
    </div>
  );

  const xlab = (cx: number) => (
    <div
      style={{
        position: 'absolute',
        left: cx,
        top: 678,
        transform: 'translate(-50%, -50%)',
        whiteSpace: 'nowrap',
        fontSize: 33,
        lineHeight: 1,
      }}
    >
      Observed Wavelength (<i>μ</i>m)
    </div>
  );

  return (
    <div
      style={{
        position: 'absolute',
        left: 0,
        top: 0,
        width: 1422,
        height: 698,
        background: '#fff',
        overflow: 'hidden',
        fontFamily: SERIF,
        color: '#111',
      }}
    >
      {legendRows}
      {rot(22, 285, 27, fluxLabel)}
      {rot(720, 285, 27, fluxLabel)}
      {rot(40, 550, 16.5, '(Model - Obs)/Err')}
      {rot(741, 550, 16.5, '(Model - Obs)/Err')}
      {xlab(379)}
      {xlab(1079)}
      <canvas ref={tl} width={BOXES.tl.w} height={BOXES.tl.h} style={canvasStyle(BOXES.tl)} />
      <canvas ref={tr} width={BOXES.tr.w} height={BOXES.tr.h} style={canvasStyle(BOXES.tr)} />
      <canvas ref={bl} width={BOXES.bl.w} height={BOXES.bl.h} style={canvasStyle(BOXES.bl)} />
      <canvas ref={br} width={BOXES.br.w} height={BOXES.br.h} style={canvasStyle(BOXES.br)} />
      <div
        style={{
          position: 'absolute',
          right: 1422 - 770,
          top: 464,
          transform: 'translateY(-50%)',
          fontSize: TICK_FS,
          lineHeight: 1,
        }}
      >
        −0.5
      </div>
    </div>
  );
}
